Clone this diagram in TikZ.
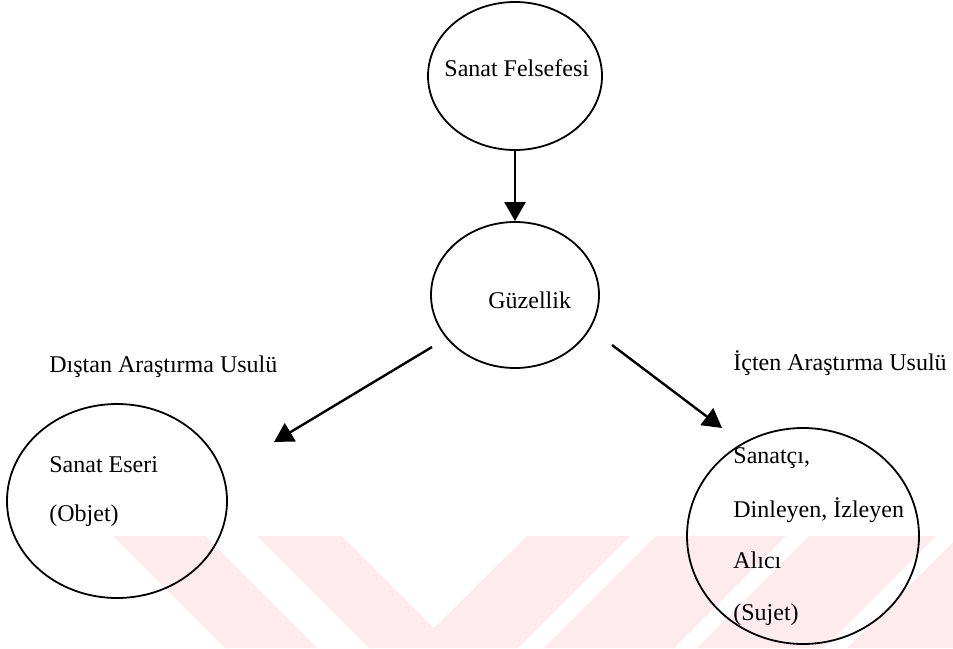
\documentclass[tikz,border=0pt]{standalone}
\usepackage{fontspec}
\setmainfont{Liberation Serif}
\usepackage{tikz}
\usetikzlibrary{shapes.geometric,arrows.meta}
\definecolor{wmpink}{RGB}{253,235,238}
\begin{document}
\begin{tikzpicture}[x=0.5pt,y=-0.5pt,
  oval/.style={draw,ellipse,line width=0.9pt,inner sep=0pt},
  txt/.style={anchor=base west,inner sep=0pt,font=\fontsize{12}{14}\selectfont},
  ok/.style={line width=1.2pt,-{Triangle[length=9.5pt,width=10.5pt]}},
  wm/.style={fill=wmpink,draw=none}]
\useasboundingbox (0,0) rectangle (953,648);
\fill[wm] (113,536) -- (205,536) -- (317,648) -- (225,648) -- cycle;
\fill[wm] (257,536) -- (342,536) -- (434,628) -- (527,536) -- (630,536) -- (518,648) -- (369,648) -- cycle;
\fill[wm] (656,536) -- (786,536) -- (674,648) -- (544,648) -- cycle;
\fill[wm] (809,536) -- (936,536) -- (824,648) -- (697,648) -- cycle;
\fill[wm] (953,542) -- (953,648) -- (847,648) -- cycle;
\node[oval,minimum width=87pt,minimum height=74pt] (fel) at (515,76) {};
\node[oval,minimum width=84pt,minimum height=73pt] (guz) at (515,295) {};
\node[oval,minimum width=110pt,minimum height=97pt] (eser) at (117,501) {};
\node[oval,minimum width=116pt,minimum height=108pt] (alici) at (803,536) {};
\node[txt] (felT) at (444,76) {Sanat Felsefesi};
\node[txt] (guzT) at (488,308) {Güzellik};
\node[txt] (dis) at (49,372) {Dıştan Araştırma Usulü};
\node[txt] (ic) at (733,370) {İçten Araştırma Usulü};
\node[txt] (eserA) at (49,472) {Sanat Eseri};
\node[txt] (eserB) at (49,521) {(Objet)};
\node[txt] (aliciA) at (733,463) {Sanatçı,};
\node[txt] (aliciB) at (733,517) {Dinleyen, İzleyen};
\node[txt] (aliciC) at (733,568) {Alıcı};
\node[txt] (aliciD) at (733,620) {(Sujet)};
\coordinate (solA) at (432,347);
\coordinate (solB) at (274,442);
\coordinate (sagA) at (612,345);
\coordinate (sagB) at (722,428);
\draw[ok] (fel) -- (guz);
\draw[ok] (solA) -- (solB);
\draw[ok] (sagA) -- (sagB);
\end{tikzpicture}
\end{document}
